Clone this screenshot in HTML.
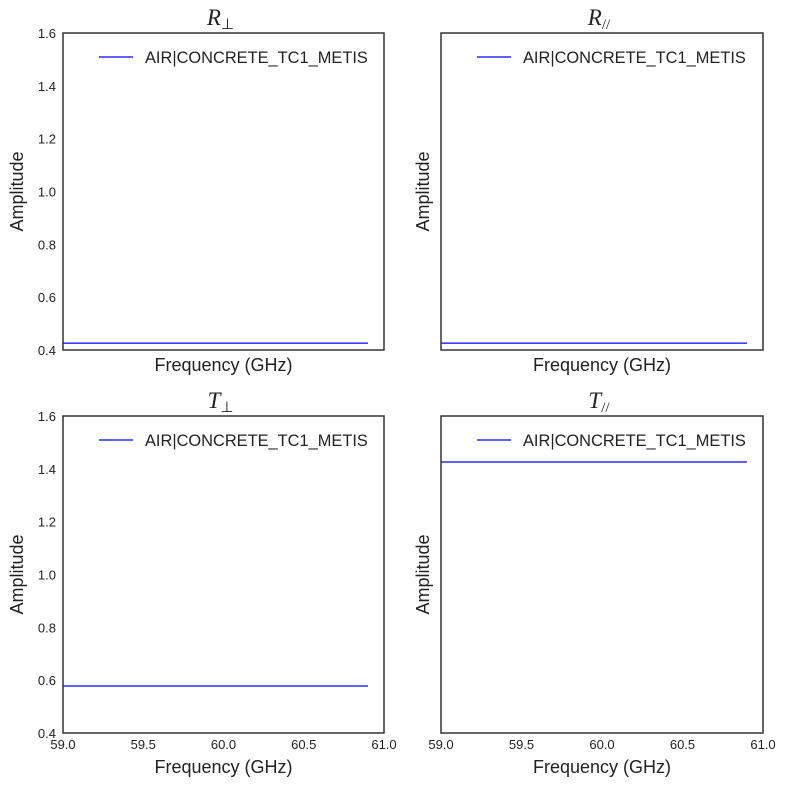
<!DOCTYPE html>
<html><head><meta charset="utf-8"><style>
body{margin:0;background:#fff;}
svg{display:block;font-family:"Liberation Sans","DejaVu Sans",sans-serif;}
</style></head><body>
<svg id="fig" width="788" height="787"></svg>
<script>
const panelTitles = ["R", "R", "T", "T"];
const panelSubs = ["\u22a5", "//", "\u22a5", "//"];
const seriesName = "AIR|CONCRETE_TC1_METIS";
const xStart = [59.0, 59.0, 59.0, 59.0];
const xEnd = [60.9, 60.9, 60.9, 60.9];
const amplitude = [0.426, 0.426, 0.578, 1.426];
const xTicks = [59.0, 59.5, 60.0, 60.5, 61.0];
const yTicks = [0.4, 0.6, 0.8, 1.0, 1.2, 1.4, 1.6];
const xMin = 59, xMax = 61, yMin = 0.4, yMax = 1.6;
const NS = "http://www.w3.org/2000/svg";
const svg = document.getElementById("fig");
const boxes = [[63,33,384,350],[441,33,763,350],[63,416,384,733],[441,416,763,733]];
function mk(tag, attrs, parent){const e=document.createElementNS(NS,tag);for(const k in attrs)e.setAttribute(k,attrs[k]);(parent||svg).appendChild(e);return e;}
boxes.forEach((b,i)=>{
  const [x0,y0,x1,y1]=b;
  const sx=v=>x0+(v-xMin)/(xMax-xMin)*(x1-x0);
  const sy=v=>y1-(v-yMin)/(yMax-yMin)*(y1-y0);
  const g=mk("g",{});
  
  
  const ln=mk("line",{x1:sx(xStart[i]),x2:sx(xEnd[i]),y1:sy(amplitude[i]),y2:sy(amplitude[i]),stroke:"#0000ff","stroke-width":1.2},g);
  
  
  const fr=mk("rect",{x:x0,y:y0,width:x1-x0,height:y1-y0,fill:"none",stroke:"#333","stroke-width":1.5},g);
  
  
  const t=mk("text",{x:(x0+x1)/2-3,y:y0-8,"text-anchor":"middle","font-family":"Liberation Serif, serif","font-style":"italic","font-size":23,fill:"#222"},g);
  
  
  t.textContent=panelTitles[i];
  const ts=mk("tspan",{"font-size":15,dy:4,"font-style":"normal"},t);ts.textContent=panelSubs[i];
  const lg=mk("g",{},g);
  
  
  mk("line",{x1:x0+36,x2:x0+70,y1:y0+24,y2:y0+24,stroke:"#0000ff","stroke-width":1.2},lg);
  const lt=mk("text",{x:x0+82,y:y0+30,"font-size":16.4,fill:"#222"},lg);lt.textContent=seriesName;
  const ylx = (i%2===0) ? x0-40 : x0-12;
  const yl=mk("text",{x:0,y:0,"font-size":18,fill:"#222","text-anchor":"middle",transform:`translate(${ylx},${(y0+y1)/2}) rotate(-90)`},g);
  
  
  yl.textContent="Amplitude";
  const xl=mk("text",{x:(x0+x1)/2,y:y1+21,"font-size":18,fill:"#222","text-anchor":"middle"},g);
  
  
  xl.textContent="Frequency (GHz)";
  if(i%2===0){
    yTicks.forEach(v=>{const tt=mk("text",{x:x0-7,y:sy(v)+5,"font-size":13,fill:"#222","text-anchor":"end"},g);
      
      
      tt.textContent=v.toFixed(1);});
  }
  if(i>=2){
    xTicks.forEach(v=>{const tt=mk("text",{x:sx(v),y:y1+16,"font-size":13,fill:"#222","text-anchor":"middle"},g);
      
      
      tt.textContent=v.toFixed(1);});
    xl.setAttribute("y",y1+40);
  }
});
</script>
</body></html>
